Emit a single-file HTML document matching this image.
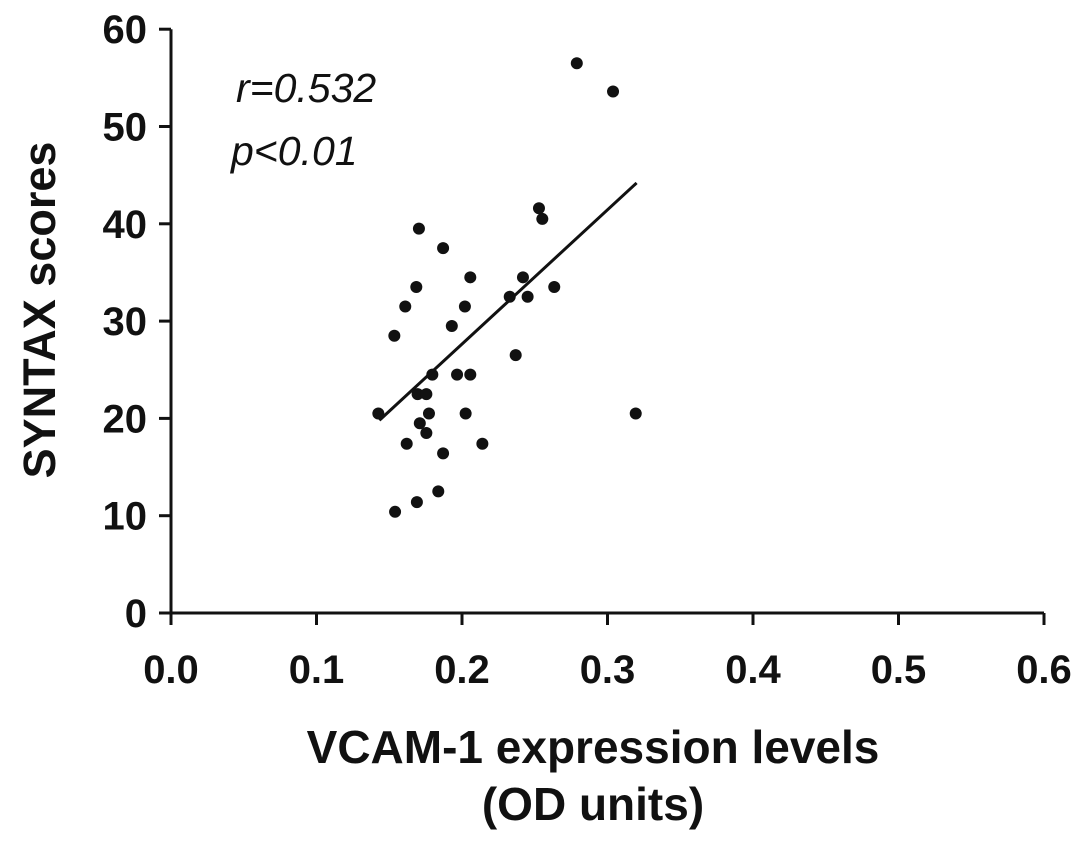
<!DOCTYPE html>
<html><head><meta charset="utf-8"><style>
html,body{margin:0;padding:0;background:#fff;width:1087px;height:842px;overflow:hidden}
svg text{font-family:"Liberation Sans",Arial,sans-serif;fill:#111}
</style></head><body>
<svg id="chart" width="1087" height="842" viewBox="0 0 1087 842" xmlns="http://www.w3.org/2000/svg">
<g id="axes"></g>
<g id="marks"></g>
<text x="236" y="102" font-size="41" font-style="italic">r=0.532</text>
<text x="231" y="165" font-size="41" font-style="italic">p&lt;0.01</text>
<text transform="translate(55,310) rotate(-90)" text-anchor="middle" font-size="45" font-weight="bold">SYNTAX scores</text>
<text x="593" y="763" text-anchor="middle" font-size="46" font-weight="bold">VCAM-1 expression levels</text>
<text x="593" y="820" text-anchor="middle" font-size="46" font-weight="bold">(OD units)</text>
</svg>
<script>
const xTicks=[0.0,0.1,0.2,0.3,0.4,0.5,0.6];
const xTickLabels=["0.0","0.1","0.2","0.3","0.4","0.5","0.6"];
const yTicks=[0,10,20,30,40,50,60];
const yTickLabels=["0","10","20","30","40","50","60"];
const xValues=[0.1425,0.1535,0.154,0.161,0.162,0.1686,0.169,0.1704,0.1695,0.1755,0.171,0.1755,0.1773,0.1796,0.187,0.1837,0.187,0.193,0.1966,0.2057,0.202,0.2057,0.2025,0.214,0.2328,0.2369,0.2419,0.2451,0.2529,0.2552,0.2634,0.3194,0.2789,0.3038];
const yValues=[20.5,28.5,10.4,31.5,17.4,33.5,11.4,39.5,22.5,22.5,19.5,18.5,20.5,24.5,37.5,12.5,16.4,29.5,24.5,24.5,31.5,34.5,20.5,17.4,32.5,26.5,34.5,32.5,41.6,40.5,33.5,20.5,56.5,53.6];
const fitSlope=[138];
const fitIntercept=[0.04];
const fitRange=[0.1432,0.320];

const X0=171,XS=1455,Y0=613,YS=9.73;
const sx=v=>X0+v*XS, sy=v=>Y0-v*YS;
const NS="http://www.w3.org/2000/svg";
function mk(tag,attrs,parent,txt){const e=document.createElementNS(NS,tag);for(const k in attrs)e.setAttribute(k,attrs[k]);if(txt!==undefined)e.textContent=txt;parent.appendChild(e);return e;}
const axes=document.getElementById('axes'),marks=document.getElementById('marks');
let l=mk('line',{x1:sx(0),y1:sy(60),x2:sx(0),y2:sy(0)+12,stroke:'#111','stroke-width':3},axes);


l=mk('line',{x1:sx(0),y1:sy(0),x2:sx(0.6),y2:sy(0),stroke:'#111','stroke-width':3},axes);


yTicks.forEach((v,i)=>{
  const t=mk('line',{x1:sx(0)-12,y1:sy(v),x2:sx(0),y2:sy(v),stroke:'#111','stroke-width':3},axes);
  
  
  const tx=mk('text',{x:sx(0)-24,y:sy(v)+14,'text-anchor':'end','font-size':40,'font-weight':'bold'},axes,yTickLabels[i]);
  
  
});
xTicks.forEach((v,i)=>{
  const t=mk('line',{x1:sx(v),y1:sy(0),x2:sx(v),y2:sy(0)+12,stroke:'#111','stroke-width':3},axes);
  
  
  const tx=mk('text',{x:sx(v),y:sy(0)+70,'text-anchor':'middle','font-size':40,'font-weight':'bold'},axes,xTickLabels[i]);
  
  
});
xValues.forEach((xv,i)=>{
  const c=mk('circle',{cx:sx(xv),cy:sy(yValues[i]),r:6,fill:'#111'},marks);
  
  
});
const fy=x=>fitSlope[0]*x+fitIntercept[0];
const fl=mk('line',{x1:sx(fitRange[0]),y1:sy(fy(fitRange[0])),x2:sx(fitRange[1]),y2:sy(fy(fitRange[1])),stroke:'#111','stroke-width':3},marks);


</script>
</body></html>
